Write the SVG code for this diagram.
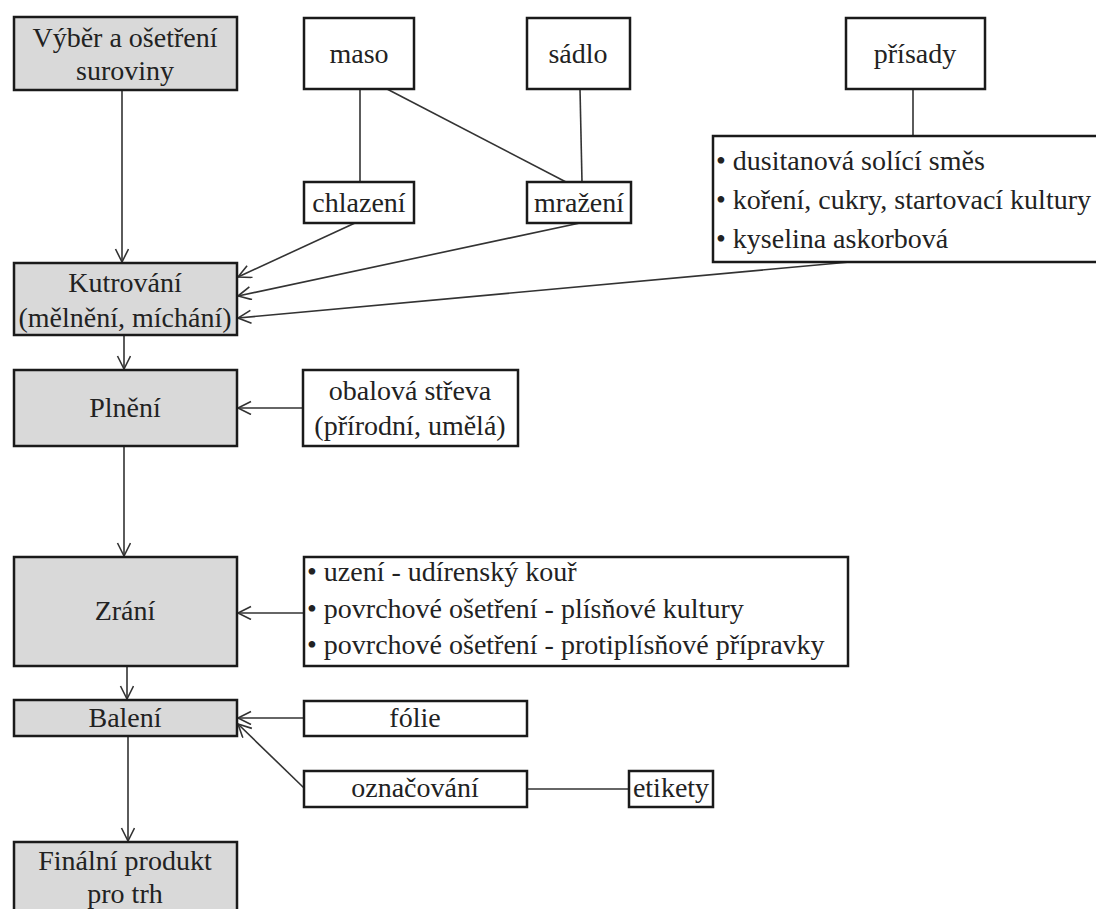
<svg xmlns="http://www.w3.org/2000/svg" width="1096" height="909" viewBox="0 0 1096 909">
<style>
text{font-family:"Liberation Serif","Times New Roman",serif;font-size:28px;fill:#222}
.c{text-anchor:middle}
.g{fill:#d9d9d9;stroke:#1a1a1a;stroke-width:2.5}
.w{fill:#fff;stroke:#1a1a1a;stroke-width:2.5}
.ln{fill:none;stroke:#333;stroke-width:1.6}
.ar{marker-end:url(#ah)}
</style>
<defs>
<marker id="ah" markerUnits="userSpaceOnUse" markerWidth="16" markerHeight="16" refX="14" refY="7" orient="auto">
<path d="M1,0.5 L14,7 L1,13.5" fill="none" stroke="#333" stroke-width="1.6"/>
</marker>
</defs>
<g id="connectors">
<line class="ln ar" x1="122" y1="90" x2="122" y2="262"/>
<line class="ln" x1="360" y1="89" x2="360" y2="182"/>
<line class="ln" x1="387" y1="89" x2="566" y2="182"/>
<line class="ln" x1="580" y1="89" x2="582" y2="182"/>
<line class="ln" x1="913" y1="89" x2="913" y2="136"/>
<line class="ln ar" x1="355" y1="223" x2="238" y2="277"/>
<line class="ln ar" x1="580" y1="223" x2="238" y2="296"/>
<line class="ln ar" x1="850" y1="262" x2="238" y2="318"/>
<line class="ln ar" x1="124" y1="335" x2="124" y2="369"/>
<line class="ln ar" x1="303" y1="408" x2="238" y2="408"/>
<line class="ln ar" x1="124" y1="446" x2="124" y2="556"/>
<line class="ln ar" x1="304" y1="613" x2="238" y2="613"/>
<line class="ln ar" x1="127" y1="666" x2="127" y2="699"/>
<line class="ln ar" x1="304" y1="718" x2="238" y2="718"/>
<line class="ln ar" x1="304" y1="788" x2="238" y2="724"/>
<line class="ln" x1="527" y1="789" x2="629" y2="789"/>
<line class="ln ar" x1="128" y1="736" x2="128" y2="841"/>
</g>
<g id="vyber"><rect class="g" x="14" y="17" width="223" height="73"/><text class="c" x="125" y="47">Výběr a ošetření</text><text class="c" x="125" y="80">suroviny</text></g>
<g id="maso"><rect class="w" x="304" y="18" width="110" height="71"/><text class="c" x="359" y="63">maso</text></g>
<g id="sadlo"><rect class="w" x="527" y="18" width="103" height="71"/><text class="c" x="578" y="63">sádlo</text></g>
<g id="prisady"><rect class="w" x="846" y="18" width="139" height="71"/><text class="c" x="915" y="63">přísady</text></g>
<g id="chlazeni"><rect class="w" x="304" y="182" width="110" height="41"/><text class="c" x="359" y="212">chlazení</text></g>
<g id="mrazeni"><rect class="w" x="527" y="182" width="104" height="41"/><text class="c" x="579" y="212">mražení</text></g>
<g id="prisady-list"><rect class="w" x="713" y="136" width="386" height="126"/><text x="716" y="170">• dusitanová solící směs</text><text x="716" y="209">• koření, cukry, startovací kultury</text><text x="716" y="248">• kyselina askorbová</text></g>
<g id="kutrovani"><rect class="g" x="14" y="263" width="223" height="72"/><text class="c" x="125" y="292">Kutrování</text><text class="c" x="125" y="327">(mělnění, míchání)</text></g>
<g id="plneni"><rect class="g" x="14" y="370" width="223" height="76"/><text class="c" x="125" y="417">Plnění</text></g>
<g id="obalova"><rect class="w" x="303" y="370" width="215" height="76"/><text class="c" x="410" y="400">obalová střeva</text><text class="c" x="410" y="435">(přírodní, umělá)</text></g>
<g id="zrani"><rect class="g" x="14" y="557" width="223" height="109"/><text class="c" x="125" y="620">Zrání</text></g>
<g id="zrani-list"><rect class="w" x="304" y="557" width="544" height="109"/><text x="307" y="581">• uzení - udírenský kouř</text><text x="307" y="618">• povrchové ošetření - plísňové kultury</text><text x="307" y="654">• povrchové ošetření - protiplísňové přípravky</text></g>
<g id="baleni"><rect class="g" x="14" y="700" width="223" height="36"/><text class="c" x="125" y="727">Balení</text></g>
<g id="folie"><rect class="w" x="304" y="701" width="223" height="35"/><text class="c" x="415" y="727">fólie</text></g>
<g id="oznacovani"><rect class="w" x="304" y="771" width="223" height="36"/><text class="c" x="415" y="797">označování</text></g>
<g id="etikety"><rect class="w" x="629" y="771" width="84" height="36"/><text class="c" x="671" y="797">etikety</text></g>
<g id="finalni"><rect class="g" x="14" y="842" width="223" height="72"/><text class="c" x="125" y="870">Finální produkt</text><text class="c" x="125" y="903">pro trh</text></g>
</svg>
